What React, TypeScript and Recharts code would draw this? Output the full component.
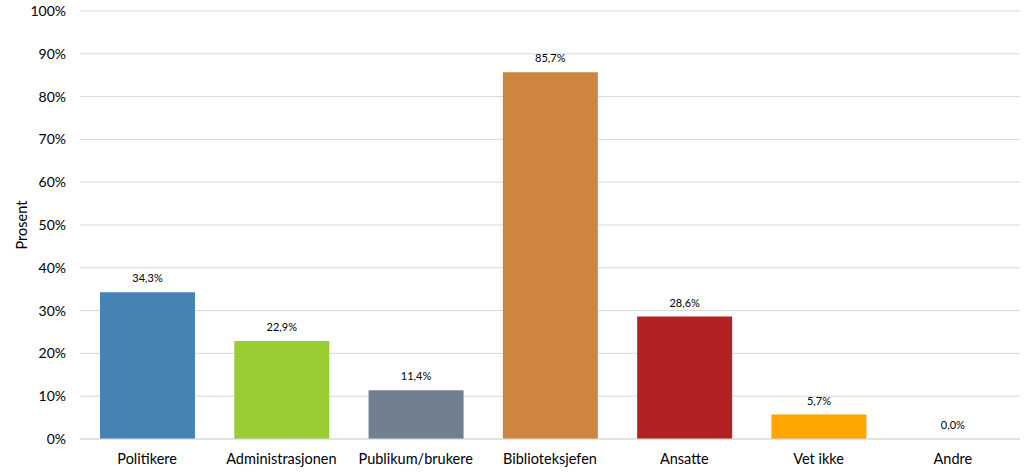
import React from "react";
import {
  BarChart,
  Bar,
  XAxis,
  YAxis,
  CartesianGrid,
  LabelList,
  Cell,
  ReferenceDot,
} from "recharts";

const categories = [
  "Politikere",
  "Administrasjonen",
  "Publikum/brukere",
  "Biblioteksjefen",
  "Ansatte",
  "Vet ikke",
  "Andre",
];
const values = [34.3, 22.9, 11.4, 85.7, 28.6, 5.7, 0.0];
const colors = [
  "#4682B4",
  "#9ACD32",
  "#708090",
  "#CD853F",
  "#B22222",
  "#FFA500",
  "#A9A9A9",
];
const yTicks = [0, 10, 20, 30, 40, 50, 60, 70, 80, 90, 100];

const data = categories.map((name, i) => ({ name, value: values[i] }));

const fmt = (v: number) => `${v.toFixed(1).replace(".", ",")}%`;
const font = "Lato, 'Open Sans', sans-serif";

export default function App() {
  return (
    <div style={{ position: "fixed", left: 0, top: 0, background: "#fff" }}>
      <BarChart
        width={1024}
        height={476}
        data={data}
        margin={{ top: 11, right: 4, bottom: 7, left: 0 }}
        style={{ fontFamily: font }}
      >
        <CartesianGrid vertical={false} stroke="#d9d9d9" strokeWidth={1} />
        <XAxis
          dataKey="name"
          height={30}
          axisLine={{ stroke: "#d9d9d9" }}
          tickLine={false}
          tick={{ fontSize: 14.5, fill: "#000" }}
          tickMargin={9}
          interval={0}
        />
        <YAxis
          domain={[0, 100]}
          ticks={yTicks}
          width={80}
          axisLine={false}
          tickLine={false}
          tickMargin={8}
          tickFormatter={(v: number) => `${v}%`}
          tick={{ fontSize: 14, fill: "#000" }}
          label={{
            value: "Prosent",
            angle: -90,
            position: "insideLeft",
            offset: 22,
            style: { fontSize: 14.5, fill: "#000", textAnchor: "middle" },
          }}
        />
        <Bar dataKey="value" barSize={95} isAnimationActive={false}>
          {data.map((d, i) => (
            <Cell key={d.name} fill={colors[i]} />
          ))}
          <LabelList
            dataKey="value"
            position="top"
            offset={10}
            formatter={(v: any) => fmt(Number(v))}
            style={{ fontSize: 11, fill: "#000" }}
          />
        </Bar>
        {data
          .filter((d) => d.value === 0)
          .map((d) => (
            <ReferenceDot
              key={d.name}
              x={d.name}
              y={d.value}
              r={0}
              stroke="none"
              fill="none"
              label={{
                value: fmt(d.value),
                position: "top",
                offset: 10,
                style: { fontSize: 11, fill: "#000" },
              }}
            />
          ))}
      </BarChart>
    </div>
  );
}
